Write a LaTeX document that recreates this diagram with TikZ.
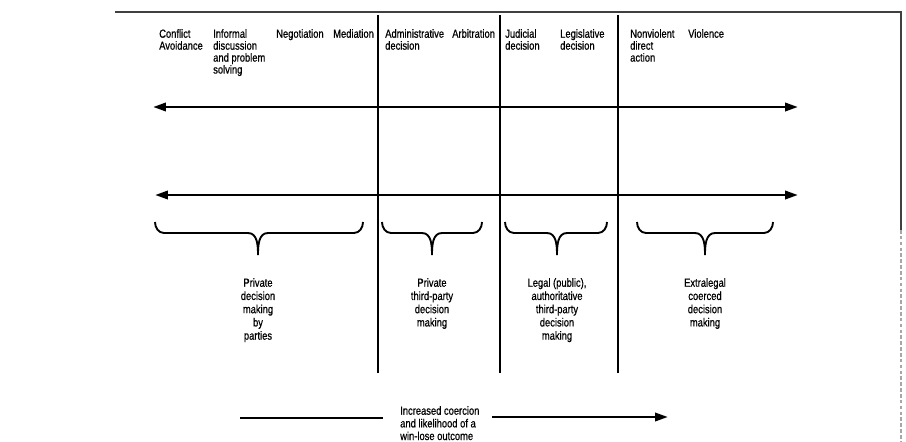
\documentclass[tikz,border=0pt]{standalone}
\usepackage{fontspec}
\setmainfont{Liberation Sans}[FakeStretch=0.8, FakeBold=0.6]
\usepackage{tikz}
\usetikzlibrary{arrows.meta, positioning}

\begin{document}
\begin{tikzpicture}[x=0.03cm, y=-0.03cm,
    toplabel/.style={anchor=north west, inner sep=0pt, align=left, font=\fontsize{10}{10.2}\selectfont},
    grouplabel/.style={anchor=north, inner sep=0pt, align=center, font=\fontsize{10}{11.3}\selectfont},
    frame/.style={draw=black!75, line width=1pt},
    divider/.style={line width=1.4pt},
    axis/.style={{Triangle[length=11pt,width=7pt]}-{Triangle[length=11pt,width=7pt]}, line width=2.3pt},
    trend/.style={line width=2.2pt},
    curly/.style={line width=1.6pt}
]
\useasboundingbox (0,0) rectangle (906,441);

% frame
\draw[frame] (115,12) -- (901,12) -- (901,230);
\draw[frame, densely dashed, draw=black!35] (901,230) -- (901,441);

% dividers
\foreach \x in {378,500,618} {
    \draw[divider] (\x,15) -- (\x,373);
}

% methods along the continuum
\node[toplabel] (avoid) at (159,29) {Conflict\\Avoidance};
\node[toplabel] (informal) at (213,29) {Informal\\discussion\\and problem\\solving};
\node[toplabel] (negot) at (276,29) {Negotiation};
\node[toplabel] (mediat) at (333,29) {Mediation};
\node[toplabel] (admin) at (385,29) {Administrative\\decision};
\node[toplabel] (arbit) at (452,29) {Arbitration};
\node[toplabel] (judic) at (505,29) {Judicial\\decision};
\node[toplabel] (legis) at (560,29) {Legislative\\decision};
\node[toplabel] (nonviol) at (630,29) {Nonviolent\\direct\\action};
\node[toplabel] (viol) at (688,29) {Violence};

% double arrows
\coordinate (upL) at (153,107);
\coordinate (upR) at (798,107);
\coordinate (loL) at (155,195);
\coordinate (loR) at (798,195);
\draw[axis] (upL) -- (upR);
\draw[axis] (loL) -- (loR);

% braces
\foreach \a/\m/\b in {155/258/363, 382/432/482, 505/557/607, 637/705/773} {
    \draw[curly] (\a,222) to[out=-90,in=180] (\a+9,233) -- (\m-10,233)
        to[out=0,in=90] (\m,255) to[out=90,in=180] (\m+10,233)
        -- (\b-9,233) to[out=0,in=-90] (\b,222);
}

% groups
\node[grouplabel] (private) at (258,278) {Private\\decision\\making\\by\\parties};
\node[grouplabel] (thirdparty) at (432,278) {Private\\third-party\\decision\\making};
\node[grouplabel] (legal) at (557,278) {Legal (public),\\authoritative\\third-party\\decision\\making};
\node[grouplabel] (extralegal) at (705,278) {Extralegal\\coerced\\decision\\making};

% coercion trend
\node[toplabel, font=\fontsize{10}{10.8}\selectfont] (coercion) at (400,406) {Increased coercion\\and likelihood of a\\win-lose outcome};
\coordinate (trendA) at (240,418);
\coordinate (trendB) at (383,418);
\coordinate (trendC) at (492,417);
\coordinate (trendD) at (668,417);
\draw[trend] (trendA) -- (trendB);
\draw[trend, -{Triangle[length=11pt,width=7pt]}] (trendC) -- (trendD);
\end{tikzpicture}
\end{document}
